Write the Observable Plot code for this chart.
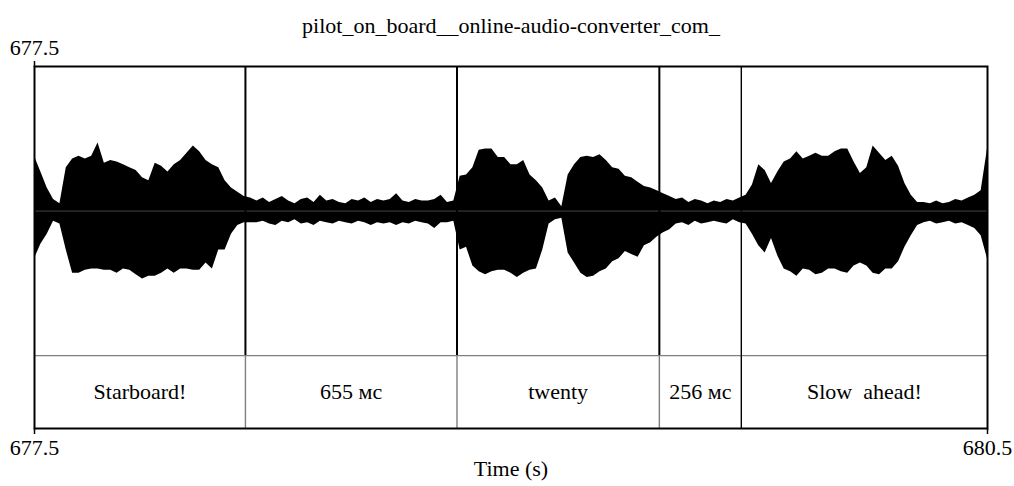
<!DOCTYPE html>
<html>
<head>
<meta charset="utf-8">
<script src="https://cdn.jsdelivr.net/npm/d3@7"></script>
<script src="https://cdn.jsdelivr.net/npm/@observablehq/plot@0.6"></script>
<style>
  html, body { margin: 0; padding: 0; background: #fff; }
  svg, svg text, svg g { font-family: "Liberation Serif", "Times New Roman", serif !important; }
  svg text { white-space: pre; }
</style>
</head>
<body>
<div id="chart"></div>
<script>
// ---- data ----
const title = "pilot_on_board__online-audio-converter_com_";
const xLabel = "Time (s)";
const tStart = 677.5, tEnd = 680.5;
const bottomTicks = [677.5, 680.5];
const topTicks = [677.5];
const boundaries = [678.164, 678.830, 679.467, 679.725];
const intervalLabels = ["Starboard!", "655 мс", "twenty", "256 мс", "Slow  ahead!"];

// waveform envelope (amplitude, arbitrary units; waveform panel spans -100..100)
const sampleTimes = [
  677.50,677.52,677.54,677.56,677.58,677.60,677.62,677.64,677.66,677.68,
  677.70,677.72,677.74,677.76,677.78,677.80,677.82,677.84,677.86,677.88,
  677.90,677.92,677.94,677.96,677.98,678.00,678.02,678.04,678.06,678.08,
  678.10,678.12,678.14,678.16,678.18,678.20,678.22,678.24,678.26,678.28,
  678.30,678.32,678.34,678.36,678.38,678.40,678.42,678.44,678.46,678.48,
  678.50,678.52,678.54,678.56,678.58,678.60,678.62,678.64,678.66,678.68,
  678.70,678.72,678.74,678.76,678.78,678.80,678.82,678.84,678.86,678.88,
  678.90,678.92,678.94,678.96,678.98,679.00,679.02,679.04,679.06,679.08,
  679.10,679.12,679.14,679.16,679.18,679.20,679.22,679.24,679.26,679.28,
  679.30,679.32,679.34,679.36,679.38,679.40,679.42,679.44,679.46,679.48,
  679.50,679.52,679.54,679.56,679.58,679.60,679.62,679.64,679.66,679.68,
  679.70,679.72,679.74,679.76,679.78,679.80,679.82,679.84,679.86,679.88,
  679.90,679.92,679.94,679.96,679.98,680.00,680.02,680.04,680.06,680.08,
  680.10,680.12,680.14,680.16,680.18,680.20,680.22,680.24,680.26,680.28,
  680.30,680.32,680.34,680.36,680.38,680.40,680.42,680.44,680.46,680.48,
  680.50
];
const upper = [
  38,27,16,8,5,30,36,38,36,38,
  47,33,35,34,32,30,28,23,21,33,
  31,27,32,35,40,45,41,35,32,30,
  21,16,13,10,9,7,9,6,8,10,
  7,5,8,9,6,11,7,8,6,5,
  8,7,9,6,8,7,8,12,7,6,
  8,7,7,8,11,6,7,24,25,30,
  42,43,43,37,37,32,32,35,25,21,
  16,7,9,3,25,32,37,38,37,39,
  35,30,29,24,23,20,17,16,14,12,
  10,8,9,6,8,7,5,7,6,8,
  7,9,11,18,32,28,19,27,34,36,
  41,36,38,40,38,38,41,43,43,34,
  26,30,45,40,35,38,31,19,11,6,
  6,5,7,5,6,8,7,9,11,14,
  43
];
const lower = [
  -33,-23,-16,-7,-9,-27,-43,-43,-41,-40,
  -40,-41,-41,-43,-40,-41,-44,-47,-45,-45,
  -43,-40,-43,-40,-40,-41,-41,-36,-40,-27,
  -27,-16,-10,-8,-8,-8,-7,-9,-10,-7,
  -8,-6,-9,-8,-10,-7,-8,-9,-7,-8,
  -9,-7,-8,-10,-8,-9,-8,-10,-8,-9,
  -7,-8,-9,-12,-8,-8,-7,-27,-25,-38,
  -42,-44,-42,-41,-41,-43,-46,-43,-41,-40,
  -27,-9,-6,-5,-29,-36,-43,-46,-45,-42,
  -40,-35,-33,-28,-30,-32,-24,-22,-18,-15,
  -13,-9,-8,-10,-7,-9,-8,-7,-8,-9,
  -6,-8,-9,-16,-24,-29,-19,-31,-40,-42,
  -45,-40,-41,-44,-43,-40,-40,-42,-43,-38,
  -36,-38,-43,-44,-40,-40,-35,-25,-17,-10,
  -8,-7,-9,-8,-7,-9,-8,-10,-12,-17,
  -33
];

// ---- layout of the Praat-style panel ----
const waveTop = 100, waveBottom = -100, tierBottom = -150.4;
const edges = [tStart, ...boundaries, tEnd];
const tierGray = "#7f7f7f";
const FS = 22;
const FONT = "Liberation Serif";

const chart = Plot.plot({
  width: 1014,
  height: 486,
  marginLeft: 34,
  marginRight: 27,
  marginTop: 66,
  marginBottom: 58,
  style: { fontFamily: FONT, fontSize: FS + "px", color: "black", background: "white", overflow: "visible" },
  x: { domain: [tStart, tEnd], axis: null },
  y: { domain: [tierBottom, waveTop], axis: null },
  marks: [
    // waveform
    Plot.areaY(sampleTimes, { x: sampleTimes, y1: lower, y2: upper, fill: "black", curve: "linear" }),
    Plot.ruleY([0], { stroke: "#444", strokeWidth: 1 }),
    // interval boundaries in the waveform panel
    Plot.ruleX(boundaries, { x: d => d, y1: waveBottom, y2: waveTop, stroke: "black", strokeWidth: (d, i) => (i === 3 ? 1.4 : 2) }),
    // tier divider and tier boundaries
    Plot.ruleY([waveBottom], { stroke: tierGray, strokeWidth: 1.4 }),
    Plot.ruleX(boundaries, { x: d => d, y1: tierBottom, y2: waveBottom, stroke: tierGray, strokeWidth: 1.4, filter: (d, i) => i < 3 }),
    Plot.ruleX(boundaries, { x: d => d, y1: tierBottom, y2: waveBottom, stroke: "black", strokeWidth: 1.4, filter: (d, i) => i === 3 }),
    // interval labels
    Plot.text(intervalLabels, {
      x: (d, i) => (edges[i] + edges[i + 1]) / 2,
      y: (tierBottom + waveBottom) / 2,
      text: d => d,
      fontSize: FS,
      fontFamily: FONT,
      lineAnchor: "middle",
      dy: 0,
      fill: "black"
    }),
    // frame
    Plot.frame({ stroke: "black", strokeWidth: 2 }),
    // axes
    Plot.axisX({
      anchor: "bottom", ticks: bottomTicks, tickSize: 6, tickPadding: 5, strokeWidth: 1.5,
      tickFormat: d => d.toFixed(1), fontSize: FS, fontFamily: FONT,
      label: xLabel, labelAnchor: "center", labelOffset: 47, labelArrow: "none"
    }),
    Plot.axisX({
      anchor: "top", ticks: topTicks, tickSize: 6, tickPadding: 6, strokeWidth: 1.5,
      tickFormat: d => d.toFixed(1), fontSize: FS, fontFamily: FONT, label: null
    }),
    // title
    Plot.text([title], { frameAnchor: "top", dy: -34, lineAnchor: "bottom", fontSize: FS, fontFamily: FONT, fill: "black" })
  ]
});
document.getElementById("chart").appendChild(chart);
</script>
</body>
</html>
